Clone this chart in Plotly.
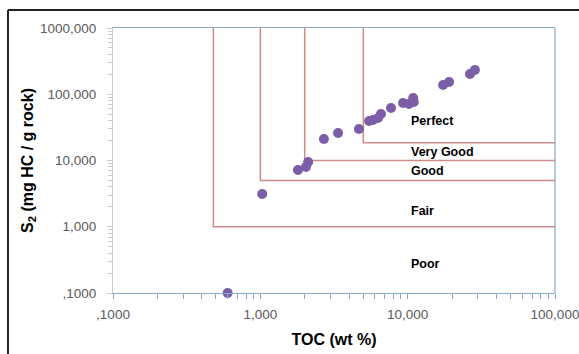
import plotly.graph_objects as go
import math

# Data
toc = [0.60, 1.03, 1.80, 2.04, 2.11, 2.70, 3.37, 4.67, 5.47, 5.82, 6.29, 6.59,
       7.71, 9.30, 10.2, 10.9, 11.0, 17.4, 19.1, 26.5, 28.6]
s2 = [0.10, 3.12, 7.2, 8.0, 9.5, 21.1, 26.0, 29.9, 39.5, 40.9, 43.8, 50.3,
      62.0, 73.8, 71.2, 87.8, 76.4, 138, 153, 202, 232]

# Zone boundaries (TOC threshold, S2 threshold)
zone_toc = [0.48, 1.0, 2.0, 5.0]
zone_s2 = [1.0, 5.0, 10.0, 18.5]

zone_labels = ["Perfect", "Very Good", "Good", "Fair", "Poor"]
label_y = [39.5, 13.4, 6.94, 1.73, 0.274]
label_x = 10.2

x_tickvals = [0.1, 1, 10, 100]
x_ticktext = [",1000", "1,000", "10,000", "100,000"]
y_tickvals = [0.1, 1, 10, 100, 1000]
y_ticktext = [",1000", "1,000", "10,000", "100,000", "1000,000"]

xmin, xmax = 0.1, 100
ymin, ymax = 0.1, 1000

x_minor = [m * d for d in [0.1, 1, 10] for m in range(2, 10)]
y_minor = [m * d for d in [0.1, 1, 10, 100] for m in range(2, 10)]

line_col = "#d08a8a"
blue = "#86a9cc"
grey = "#c8cdd2"

fig = go.Figure()

# zone boundary lines
for tx, sy in zip(zone_toc, zone_s2):
    fig.add_trace(go.Scatter(
        x=[tx, tx, xmax], y=[ymax, sy, sy], mode="lines",
        line=dict(color=line_col, width=1.5), hoverinfo="skip", showlegend=False))

fig.add_trace(go.Scatter(
    x=toc, y=s2, mode="markers",
    marker=dict(color="#7b5ea7", size=10), showlegend=False, cliponaxis=False))

for lab, ly in zip(zone_labels, label_y):
    fig.add_annotation(x=math.log10(label_x), y=math.log10(ly), text="<b>" + lab + "</b>",
                       showarrow=False, xanchor="left", yanchor="middle",
                       font=dict(family="Liberation Sans, Arial", size=12.5, color="#000000"))

# outer border (left & top) and right frame
fig.add_shape(type="line", xref="paper", yref="paper", x0=-0.2376, x1=-0.2376, y0=-0.3, y1=1.068,
              line=dict(color="#222222", width=2))
fig.add_shape(type="line", xref="paper", yref="paper", x0=-0.2376, x1=1.1, y0=1.068, y1=1.068,
              line=dict(color="#222222", width=2))
fig.add_shape(type="line", xref="paper", yref="paper", x0=1, x1=1, y0=0, y1=1,
              line=dict(color=blue, width=1.2))

fig.update_layout(
    width=579, height=354,
    margin=dict(l=113, r=24, t=28, b=61, autoexpand=False),
    paper_bgcolor="white", plot_bgcolor="white",
    font=dict(family="Liberation Sans, Arial", color="#595959"),
    xaxis=dict(
        type="log", range=[math.log10(xmin), math.log10(xmax)],
        tickmode="array", tickvals=x_tickvals, ticktext=x_ticktext,
        ticks="outside", ticklen=5, tickcolor=blue, tickwidth=1,
        showline=True, linecolor=blue, linewidth=1.2, mirror=True,
        showgrid=False, zeroline=False, automargin=False,
        ticklabelstandoff=4, ticklabeloverflow="allow",
        minor=dict(tickmode="array", tickvals=x_minor, ticks="outside", ticklen=5,
                   tickcolor=blue, showgrid=False),
        tickfont=dict(size=13.5, color="#5a5a5a"),
        title=dict(text="<b>TOC (wt %)</b>", font=dict(size=16, color="#000000"), standoff=12),
    ),
    yaxis=dict(
        type="log", range=[math.log10(ymin), math.log10(ymax)],
        tickmode="array", tickvals=y_tickvals, ticktext=y_ticktext,
        ticks="outside", ticklen=5, tickcolor=grey, tickwidth=1,
        showline=True, linecolor=grey, linewidth=1.2,
        showgrid=False, zeroline=False, automargin=False,
        ticklabelstandoff=8, ticklabeloverflow="allow",
        minor=dict(tickmode="array", tickvals=y_minor, ticks="outside", ticklen=4,
                   tickcolor=grey, showgrid=False),
        tickfont=dict(size=13.5, color="#5a5a5a"),
        title=dict(text="<b>S<sub>2</sub> (mg HC / g rock)</b>", font=dict(size=16, color="#000000"), standoff=2),
    ),
)

fig.write_html("out.html")
